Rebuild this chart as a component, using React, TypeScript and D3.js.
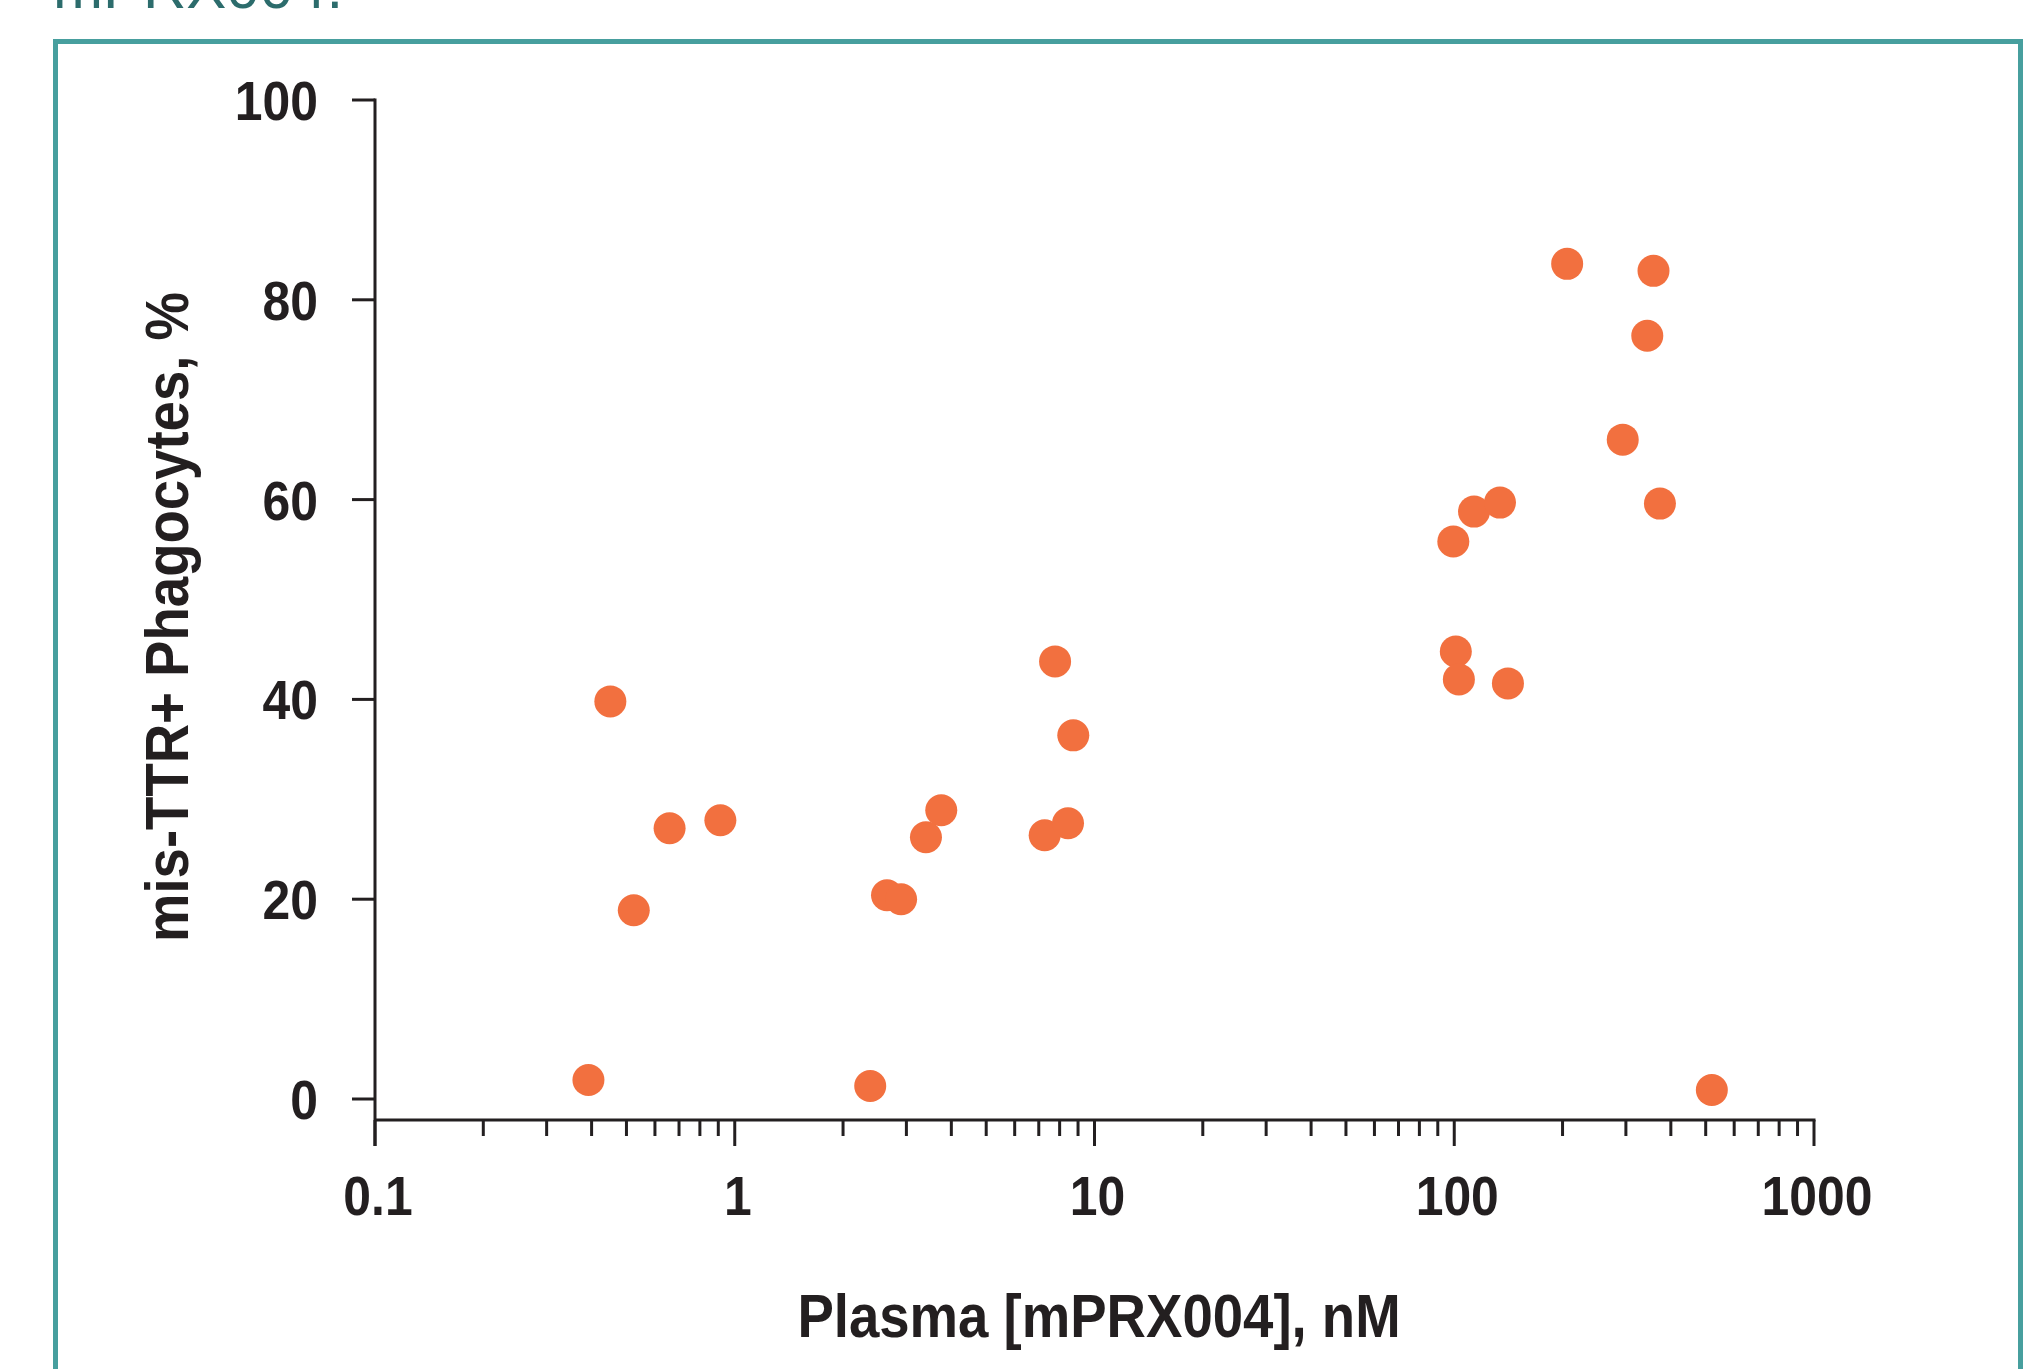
import { useEffect, useRef } from "react";
import * as d3 from "d3";

const W = 2025;
const H = 1369;

// plasma concentration (nM) and % mis-TTR+ phagocytes
const plasmaNM = [
  0.392, 0.451, 0.524, 0.659, 0.912, 2.38, 2.65, 2.9, 3.4, 3.75, 7.27, 7.77,
  8.44, 8.73, 99.4, 101, 103, 113.5, 134, 141, 206, 294, 344, 358, 373, 520,
];
const phagocytesPct = [
  1.9, 39.8, 18.9, 27.1, 27.9, 1.3, 20.4, 20.0, 26.2, 28.9, 26.4, 43.8, 27.6,
  36.4, 55.8, 44.8, 42.0, 58.8, 59.7, 41.6, 83.6, 66.0, 76.4, 82.9, 59.6, 0.9,
];

const yTicks = [0, 20, 40, 60, 80, 100];
const xMajorTicks = [0.1, 1, 10, 100, 1000];
const xTickLabels = ["0.1", "1", "10", "100", "1000"];

const INK = "#231f20";
const DOT = "#f2703f";
const FRAME = "#479f9e";
const FONT = "'Liberation Sans', Arial, Helvetica, sans-serif";
// the original type is a slightly condensed Helvetica
const SQUEEZE = 0.89;

export default function App() {
  const svgRef = useRef<SVGSVGElement>(null);

  useEffect(() => {
    const svg = d3.select(svgRef.current);
    svg.selectAll("*").remove();

    const x = d3.scaleLog().domain([0.1, 1000]).range([375, 1814]);
    const y = d3.scaleLinear().domain([0, 100]).range([1099, 100]);
    const axisY = 1120;

    // frame + clipped caption line above it
    svg
      .append("text")
      .attr("x", 53)
      .attr("y", 8)
      .attr("font-family", FONT)
      .attr("font-size", 60)
      .attr("fill", "#2c6c6c")
      .text("mPRX004.");

    svg
      .append("path")
      .attr("d", `M55.5,${H + 10} V41.5 H2020.5 V${H + 10}`)
      .attr("fill", "none")
      .attr("stroke", FRAME)
      .attr("stroke-width", 5);

    const g = svg.append("g").attr("font-family", FONT).attr("fill", INK);

    // y axis
    g.append("line")
      .attr("x1", x(0.1))
      .attr("x2", x(0.1))
      .attr("y1", y(100) - 1.5)
      .attr("y2", axisY + 26)
      .attr("stroke", INK)
      .attr("stroke-width", 3);

    g.selectAll(".ytick")
      .data(yTicks)
      .join("line")
      .attr("class", "ytick")
      .attr("x1", x(0.1) - 23)
      .attr("x2", x(0.1))
      .attr("y1", (d) => y(d))
      .attr("y2", (d) => y(d))
      .attr("stroke", INK)
      .attr("stroke-width", 3);

    g.selectAll(".ylab")
      .data(yTicks)
      .join("text")
      .attr("class", "ylab")
      .attr("transform", (d) => `translate(318,${y(d) + 20}) scale(${SQUEEZE},1)`)
      .attr("text-anchor", "end")
      .attr("font-size", 56)
      .attr("font-weight", "bold")
      .text((d) => d);

    // x axis
    g.append("line")
      .attr("x1", x(0.1))
      .attr("x2", x(1000) + 1.5)
      .attr("y1", axisY)
      .attr("y2", axisY)
      .attr("stroke", INK)
      .attr("stroke-width", 3);

    const minor: number[] = [];
    for (let dec = 0.1; dec < 1000; dec *= 10) {
      for (let k = 2; k <= 9; k++) minor.push(+(dec * k).toPrecision(3));
    }

    g.selectAll(".xminor")
      .data(minor)
      .join("line")
      .attr("class", "xminor")
      .attr("x1", (d) => x(d))
      .attr("x2", (d) => x(d))
      .attr("y1", axisY)
      .attr("y2", axisY + 16)
      .attr("stroke", INK)
      .attr("stroke-width", 3);

    g.selectAll(".xmajor")
      .data(xMajorTicks)
      .join("line")
      .attr("class", "xmajor")
      .attr("x1", (d) => x(d))
      .attr("x2", (d) => x(d))
      .attr("y1", axisY)
      .attr("y2", axisY + 26)
      .attr("stroke", INK)
      .attr("stroke-width", 3);

    g.selectAll(".xlab")
      .data(xMajorTicks)
      .join("text")
      .attr("class", "xlab")
      .attr("transform", (d) => `translate(${x(d) + 3},1215) scale(${SQUEEZE},1)`)
      .attr("text-anchor", "middle")
      .attr("font-size", 56)
      .attr("font-weight", "bold")
      .text((_, i) => xTickLabels[i]);

    // titles
    g.append("text")
      .attr("transform", "translate(1099,1337) scale(0.88,1)")
      .attr("text-anchor", "middle")
      .attr("font-size", 62)
      .attr("font-weight", "bold")
      .text("Plasma [mPRX004], nM");

    g.append("text")
      .attr("transform", "translate(188,617) rotate(-90) scale(0.88,1)")
      .attr("text-anchor", "middle")
      .attr("font-size", 62)
      .attr("font-weight", "bold")
      .text("mis-TTR+ Phagocytes, %");

    // points
    svg
      .append("g")
      .selectAll("circle")
      .data(plasmaNM)
      .join("circle")
      .attr("cx", (d) => x(d))
      .attr("cy", (_, i) => y(phagocytesPct[i]))
      .attr("r", 16)
      .attr("fill", DOT);
  }, []);

  return (
    <svg
      ref={svgRef}
      width={W}
      height={H}
      style={{ position: "absolute", left: 0, top: 0, background: "#fff" }}
    />
  );
}
